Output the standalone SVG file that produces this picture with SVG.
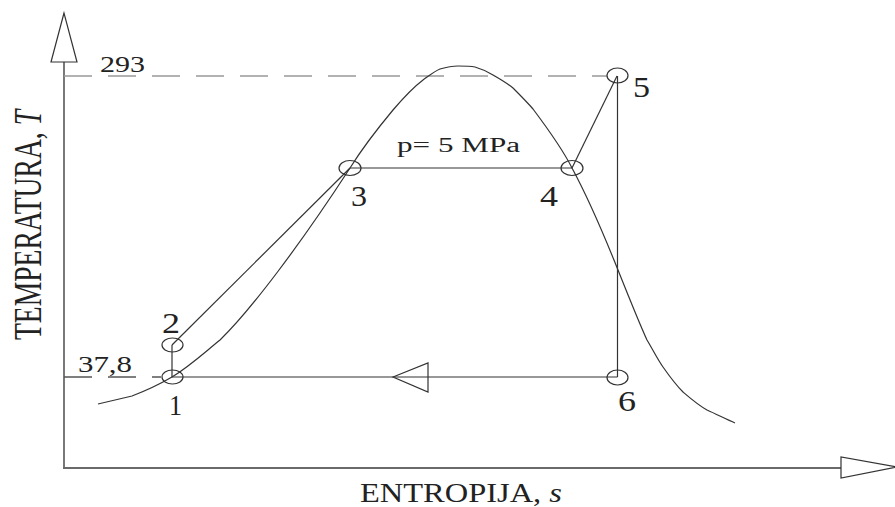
<svg xmlns="http://www.w3.org/2000/svg" width="895" height="507" viewBox="0 0 895 507">
<style>
.axis{stroke:#6a6a6a;stroke-width:1.8;fill:none}
.arrow{stroke:#333;stroke-width:1.2;fill:#fff}
.dash{stroke:#999;stroke-width:1.5;fill:none;stroke-dasharray:28 16}
.ln{stroke:#333;stroke-width:1.2;fill:none}
.pt{stroke:#333;stroke-width:1.2;fill:none}
.t{font-family:"Liberation Serif","Times New Roman",serif;fill:#222}
</style>
<rect width="895" height="507" fill="#fff"/>
<g id="axes">
<line class="axis" x1="64" y1="62" x2="64" y2="468"/>
<line class="axis" x1="63" y1="468" x2="841" y2="468"/>
<polygon class="arrow" points="64,13 51,62 77,62"/>
<polygon class="arrow" points="841,457 841,478 897,467"/>
<text class="t" font-size="40" textLength="230" lengthAdjust="spacingAndGlyphs" transform="translate(41,340) rotate(-90)">TEMPERATURA, <tspan font-style="italic">T</tspan></text>
<text class="t" x="360" y="502" font-size="28" textLength="202" lengthAdjust="spacingAndGlyphs">ENTROPIJA, <tspan font-style="italic">s</tspan></text>
</g>
<g id="levels">
<line class="dash" x1="64" y1="76" x2="607" y2="76"/>
<line class="dash" x1="64" y1="377" x2="161" y2="377" style="stroke:#555"/>
<text class="t" x="100" y="72" font-size="24" textLength="45" lengthAdjust="spacingAndGlyphs">293</text>
<text class="t" x="78" y="372" font-size="24" textLength="54" lengthAdjust="spacingAndGlyphs">37,8</text>
</g>
<g id="saturation-curve">
<path class="ln" d="M98,404 L132,396 C145,391 160,384 172,377 C190,366 205,352 220,340 C250,311 300,245 350,168 C365,144 378,128 393,110 C405,96 415,86 423,80 C430,75 435,71 440,69 C447,67 452,66 458,66 C465,66 470,66 475,67 C482,69 488,72 493,75 C500,79 507,83 513,88 C520,95 527,102 533,109 C545,125 562,148 572,168 C592,205 608,245 618,270 C630,300 640,325 647,340 C653,350 658,360 663,367 C670,377 676,385 683,392 C690,398 698,405 707,410 C716,414 726,419 735,423"/>
</g>
<g id="connectors">
<line class="ln" x1="172" y1="345" x2="172" y2="377"/>
<line class="ln" x1="172" y1="345" x2="350" y2="168"/>
<line class="ln" x1="350" y1="168" x2="572" y2="168"/>
<line class="ln" x1="572" y1="168" x2="617" y2="76"/>
<line class="ln" x1="617.5" y1="76" x2="617.5" y2="377"/>
<line class="ln" x1="172" y1="377" x2="617.5" y2="377"/>
<polygon class="ln" points="393,377 428,363 428,392"/>
<text class="t" x="397" y="152" font-size="20" textLength="123" lengthAdjust="spacingAndGlyphs">p= 5 MPa</text>
</g>
<g id="node-1"><ellipse class="pt" cx="172.5" cy="377" rx="10.5" ry="7"/><text class="t" x="169" y="415" font-size="29" textLength="13" lengthAdjust="spacingAndGlyphs">1</text></g>
<g id="node-2"><ellipse class="pt" cx="172.5" cy="345" rx="10.5" ry="7"/><text class="t" x="162" y="333" font-size="29" textLength="18" lengthAdjust="spacingAndGlyphs">2</text></g>
<g id="node-3"><ellipse class="pt" cx="350" cy="168" rx="11" ry="7.5"/><text class="t" x="351" y="206" font-size="29" textLength="16" lengthAdjust="spacingAndGlyphs">3</text></g>
<g id="node-4"><ellipse class="pt" cx="572" cy="168" rx="11" ry="7.5"/><text class="t" x="540" y="206" font-size="29" textLength="18" lengthAdjust="spacingAndGlyphs">4</text></g>
<g id="node-5"><ellipse class="pt" cx="617.5" cy="75.5" rx="10.5" ry="7.5"/><text class="t" x="633" y="97" font-size="29" textLength="17" lengthAdjust="spacingAndGlyphs">5</text></g>
<g id="node-6"><ellipse class="pt" cx="617.5" cy="377.5" rx="10.5" ry="7.5"/><text class="t" x="618" y="411" font-size="29" textLength="18" lengthAdjust="spacingAndGlyphs">6</text></g>
</svg>
